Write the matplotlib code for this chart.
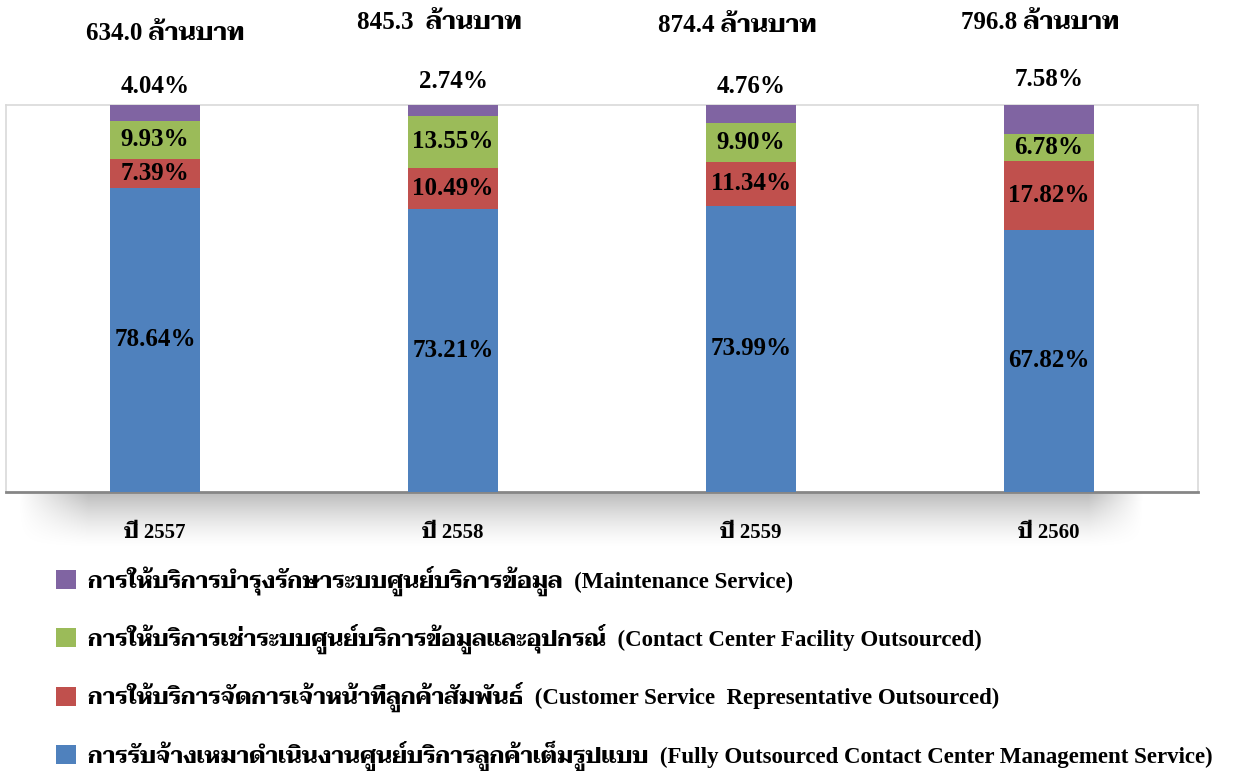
import numpy as np
import matplotlib
matplotlib.use('Agg')
import matplotlib.pyplot as plt
from matplotlib.patches import Patch

# data
years = ['ปี 2557', 'ปี 2558', 'ปี 2559', 'ปี 2560']
totals = ['634.0 ล้านบาท', '845.3  ล้านบาท', '874.4 ล้านบาท', '796.8 ล้านบาท']
fully = [78.64, 73.21, 73.99, 67.82]
csr = [7.39, 10.49, 11.34, 17.82]
facility = [9.93, 13.55, 9.90, 6.78]
maint = [4.04, 2.74, 4.76, 7.58]
names = [
    'การรับจ้างเหมาดำเนินงานศูนย์บริการลูกค้าเต็มรูปแบบ  (Fully Outsourced Contact Center Management Service)',
    'การให้บริการจัดการเจ้าหน้าที่ลูกค้าสัมพันธ์  (Customer Service  Representative Outsourced)',
    'การให้บริการเช่าระบบศูนย์บริการข้อมูลและอุปกรณ์  (Contact Center Facility Outsourced)',
    'การให้บริการบำรุงรักษาระบบศูนย์บริการข้อมูล  (Maintenance Service)',
]
colors = ['#4F81BD', '#C0504D', '#9BBB59', '#8064A2']

FONT = ['Liberation Serif', 'Taviraj', 'Noto Serif Thai', 'DejaVu Serif']
plt.rcParams['font.family'] = FONT
plt.rcParams['font.weight'] = 'bold'

W, H = 1249, 771
fig = plt.figure(figsize=(W / 100, H / 100), dpi=100)

# soft shadow under the plot area
sh = fig.add_axes([18 / W, 1 - 550 / H, 1125 / W, 58 / H], zorder=0)
ny, nx = 58, 1125
yy = np.linspace(0, 1, ny)[:, None]
xx = np.arange(nx)[None, :]
vert = np.clip(1 - yy, 0, 1) ** 1.5
horiz = np.clip(xx / 70.0, 0, 1) * np.clip((nx - xx) / 55.0, 0, 1)
img = np.zeros((ny, nx, 4))
img[..., 3] = 0.28 * vert * horiz
sh.imshow(img[::-1], aspect='auto', extent=(0, 1, 0, 1), origin='lower')
sh.axis('off')

ax = fig.add_axes([6 / W, 1 - 492 / H, 1192 / W, 387 / H], zorder=2)
x = np.arange(len(years))
series = [fully, csr, facility, maint]
bottom = np.zeros(len(years))
bw = 0.30
for vals, c in zip(series, colors):
    ax.bar(x, vals, bw, bottom=bottom, color=c, zorder=3)
    bottom += np.array(vals)

# labels inside segments (blue, red, green)
bottom = np.zeros(len(years))
for vals in series[:3]:
    for i, v in enumerate(vals):
        ax.text(x[i], bottom[i] + v / 2, '%.2f%%' % v, ha='center', va='center',
                fontsize=18, fontweight='bold', zorder=4)
    bottom += np.array(vals)

# purple values above the bars and totals (placed a bit unevenly, as in the original)
tot_dx = [0.035, -0.045, -0.047, -0.03]
tot_dy = [43, 51, 49, 51]
pct_dy = [5, 9, 5, 10]
for i in range(len(years)):
    ax.annotate('%.2f%%' % maint[i], xy=(x[i], 100), xytext=(0, pct_dy[i]),
                textcoords='offset points', ha='center', va='bottom',
                fontsize=18, fontweight='bold', annotation_clip=False)
    ax.annotate(totals[i], xy=(x[i] + tot_dx[i], 100), xytext=(0, tot_dy[i]),
                textcoords='offset points', ha='center', va='bottom',
                fontsize=18, fontweight='bold', annotation_clip=False)

ax.set_xlim(-0.5, 3.5)
ax.set_ylim(0, 100)
ax.set_yticks([])
ax.set_xticks(x)
ax.set_xticklabels(years, fontsize=15, fontweight='bold')
ax.tick_params(axis='x', length=0, pad=22)
for s in ['left', 'top', 'right']:
    ax.spines[s].set_color('#D9D9D9')
    ax.spines[s].set_linewidth(1.2)
ax.spines['bottom'].set_color('#868686')
ax.spines['bottom'].set_linewidth(2)

handles = [Patch(facecolor=c, edgecolor='none') for c in colors]
fig.legend(handles[::-1], names[::-1], loc='upper left',
           bbox_to_anchor=(35 / W, 1 - 545 / H), frameon=False,
           prop={'size': 16.5, 'weight': 'bold'}, handlelength=0.9,
           handleheight=0.9, handletextpad=0.5, labelspacing=1.22)

fig.savefig('out.png', dpi=100)
